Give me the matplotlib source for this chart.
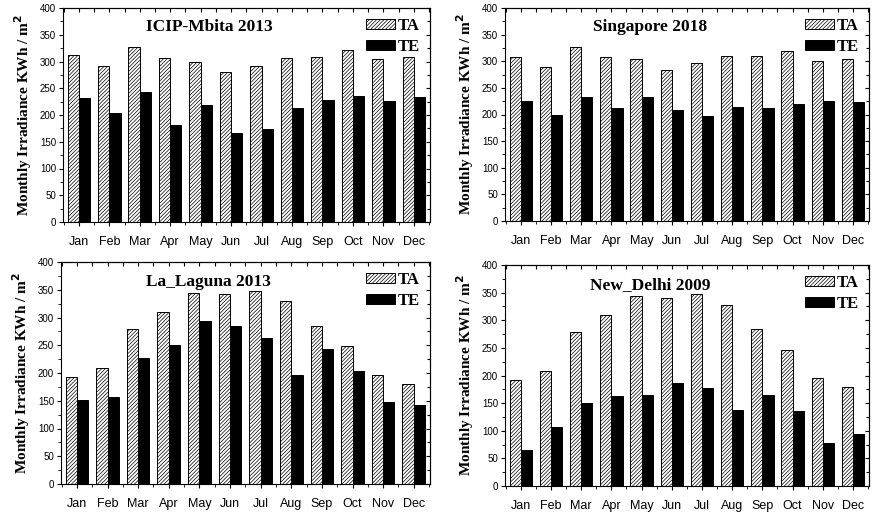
import numpy as np
import matplotlib.pyplot as plt
from matplotlib.ticker import MultipleLocator

months = ["Jan", "Feb", "Mar", "Apr", "May", "Jun", "Jul", "Aug", "Sep", "Oct", "Nov", "Dec"]

# TA / TE Werte je Standort
mbita_ta = [313, 292, 327, 306, 300, 280, 292, 306, 309, 322, 305, 308]
mbita_te = [232, 204, 243, 182, 219, 166, 173, 213, 228, 235, 226, 234]

sing_ta = [308, 290, 326, 308, 304, 284, 296, 309, 310, 320, 301, 304]
sing_te = [225, 199, 233, 213, 232, 209, 197, 214, 213, 219, 226, 223]

laguna_ta = [192, 209, 279, 310, 345, 342, 348, 329, 285, 248, 197, 180]
laguna_te = [151, 157, 227, 251, 293, 285, 263, 197, 243, 203, 147, 143]

delhi_ta = [191, 208, 278, 309, 344, 341, 347, 328, 284, 247, 196, 179]
delhi_te = [65, 106, 151, 162, 164, 186, 178, 138, 164, 135, 77, 94]

titles = ["ICIP-Mbita 2013", "Singapore 2018", "La_Laguna 2013", "New_Delhi 2009"]
data = [(mbita_ta, mbita_te), (sing_ta, sing_te), (laguna_ta, laguna_te), (delhi_ta, delhi_te)]

# Achsenpositionen in Pixeln (links, oben, rechts, unten)
boxes = [(63, 8, 430, 222), (505, 8, 869, 221), (61, 262, 430, 484), (505, 265, 869, 486)]

plt.rcParams['hatch.linewidth'] = 0.5
fig = plt.figure(figsize=(8.73, 5.16), dpi=100)
W, H = 873, 516
x = np.arange(12)
w = 0.37

for i in range(4):
    l, t, r, b = boxes[i]
    ax = fig.add_axes([l / W, 1 - b / H, (r - l) / W, (b - t) / H])
    ta, te = data[i]
    ax.bar(x - w / 2, ta, w, color="white", edgecolor="black", hatch="/////////", linewidth=0.7, label="TA")
    ax.bar(x + w / 2, te, w, color="black", edgecolor="black", linewidth=0.7, label="TE")
    ax.set_xlim(-0.52, 11.53)
    ax.set_ylim(0, 400)
    ax.set_xticks(x)
    ax.set_xticklabels(months, fontsize=9, family="Liberation Sans")
    ax.xaxis.set_minor_locator(MultipleLocator(0.5))
    ax.yaxis.set_major_locator(MultipleLocator(50))
    ax.yaxis.set_minor_locator(MultipleLocator(25))
    for lab in ax.get_yticklabels():
        lab.set_fontsize(7)
        lab.set_family("Liberation Sans")
    ax.tick_params(which="major", direction="out", length=3, width=0.8, pad=2)
    ax.tick_params(which="minor", direction="out", length=2, width=0.6)
    ax.tick_params(axis="x", pad=7)
    top = ax.secondary_xaxis("top")
    top.set_xticks(x)
    top.xaxis.set_minor_locator(MultipleLocator(0.5))
    top.tick_params(which="both", direction="in", labeltop=False, length=3, width=0.8)
    right = ax.secondary_yaxis("right")
    right.yaxis.set_major_locator(MultipleLocator(50))
    right.yaxis.set_minor_locator(MultipleLocator(25))
    right.tick_params(which="both", direction="in", labelright=False, length=3, width=0.8)
    right.tick_params(which="minor", length=2)
    for s in ax.spines.values():
        s.set_linewidth(0.8)
    ax.text(0.40, 0.91, titles[i], transform=ax.transAxes, ha="center", va="center",
            fontsize=12.5, fontweight="bold", family="Liberation Serif")
    ax.legend(loc="upper right", frameon=False, prop={"family": "Liberation Serif", "weight": "bold", "size": 12},
              handlelength=1.7, handleheight=0.55, handletextpad=0.2, labelspacing=0.3,
              borderaxespad=0.2, bbox_to_anchor=(1.0, 1.0))
    ax.set_ylabel("Monthly Irradiance KWh / m$^\\mathbf{2}$", fontsize=11, fontweight="bold",
                  family="Liberation Serif", labelpad=4)

fig.savefig("out.png", dpi=100)
